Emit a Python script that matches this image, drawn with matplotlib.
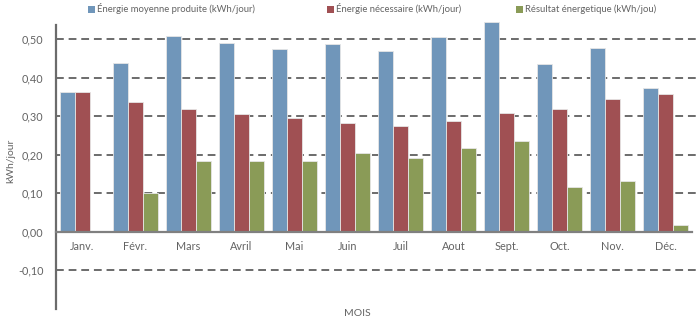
import matplotlib
matplotlib.use("Agg")
import matplotlib.pyplot as plt
from matplotlib.ticker import FuncFormatter
from matplotlib.patches import Rectangle
import numpy as np

months = ["Janv.", "Févr.", "Mars", "Avril", "Mai", "Juin", "Juil", "Aout", "Sept.", "Oct.", "Nov.", "Déc."]
series_names = ["Énergie moyenne produite (kWh/jour)", "Énergie nécessaire (kWh/jour)", "Résultat énergetique (kWh/jou)"]
produite = [0.364, 0.438, 0.509, 0.489, 0.474, 0.487, 0.469, 0.506, 0.545, 0.435, 0.478, 0.374]
necessaire = [0.364, 0.337, 0.320, 0.306, 0.296, 0.282, 0.275, 0.288, 0.308, 0.320, 0.344, 0.357]
resultat = [0.000, 0.100, 0.184, 0.184, 0.184, 0.204, 0.192, 0.217, 0.236, 0.115, 0.133, 0.017]
yticks = [-0.10, 0.00, 0.10, 0.20, 0.30, 0.40, 0.50]

colors = ["#7096BA", "#A05053", "#8A9B57"]
txt = "#636363"
plt.rcParams['font.family'] = ['Lato', 'DejaVu Sans']

W, H = 700, 322
fig = plt.figure(figsize=(7, 3.22), dpi=100)
ax = fig.add_axes([0.08, 0.041, 0.9086, 0.897])

x = np.arange(len(months))
w = 0.283
for i, (vals, c) in enumerate(zip([produite, necessaire, resultat], colors)):
    ax.bar(x + (i - 1) * w, vals, width=w, color=c, edgecolor="#E6E6E6", linewidth=0.6, zorder=3)

ax.set_xlim(-0.5, 11.5)
ax.set_ylim(-0.2, 0.55)
ax.set_yticks(yticks)
ax.yaxis.set_major_formatter(FuncFormatter(lambda v, p: f"{v:.2f}".replace(".", ",")))
for t in yticks:
    if abs(t) > 1e-9:
        ax.axhline(t, xmin=0, xmax=1.013, color="#6B6B6B", lw=1.4, ls=(0, (4, 2.5)), clip_on=False, zorder=1)

ax.set_xticks(x)
ax.set_xticklabels(months)
ax.spines['top'].set_visible(False)
ax.spines['right'].set_visible(False)
ax.spines['bottom'].set_position(('data', 0))
ax.spines['bottom'].set_color("#808080")
ax.spines['bottom'].set_linewidth(1.6)
ax.spines['bottom'].set_zorder(4)
ax.spines['left'].set_color("#6B6B6B")
ax.spines['left'].set_linewidth(1.6)
ax.spines['left'].set_bounds(-0.2, 0.537)
ax.tick_params(axis='both', length=0, labelsize=7.8, colors=txt)
ax.tick_params(axis='x', pad=7)
ax.tick_params(axis='y', pad=9)

fig.text(0.016, 0.5, "kWh/jour", rotation=90, ha='center', va='center', fontsize=7.5, color=txt)
fig.text(0.51, 0.027, "MOIS", ha='center', va='center', fontsize=7.5, color=txt)

# legend entries placed manually
leg_x = [88, 327, 516]
leg_y = 9
for lx, name, c in zip(leg_x, series_names, colors):
    fig.add_artist(Rectangle((lx / W, 1 - (leg_y + 3.5) / H), 7 / W, 7 / H,
                             transform=fig.transFigure, facecolor=c, edgecolor='none'))
    fig.text((lx + 9) / W, 1 - leg_y / H, name, ha='left', va='center', fontsize=6.8, color=txt)

fig.savefig("out.png", dpi=100, facecolor="white")
